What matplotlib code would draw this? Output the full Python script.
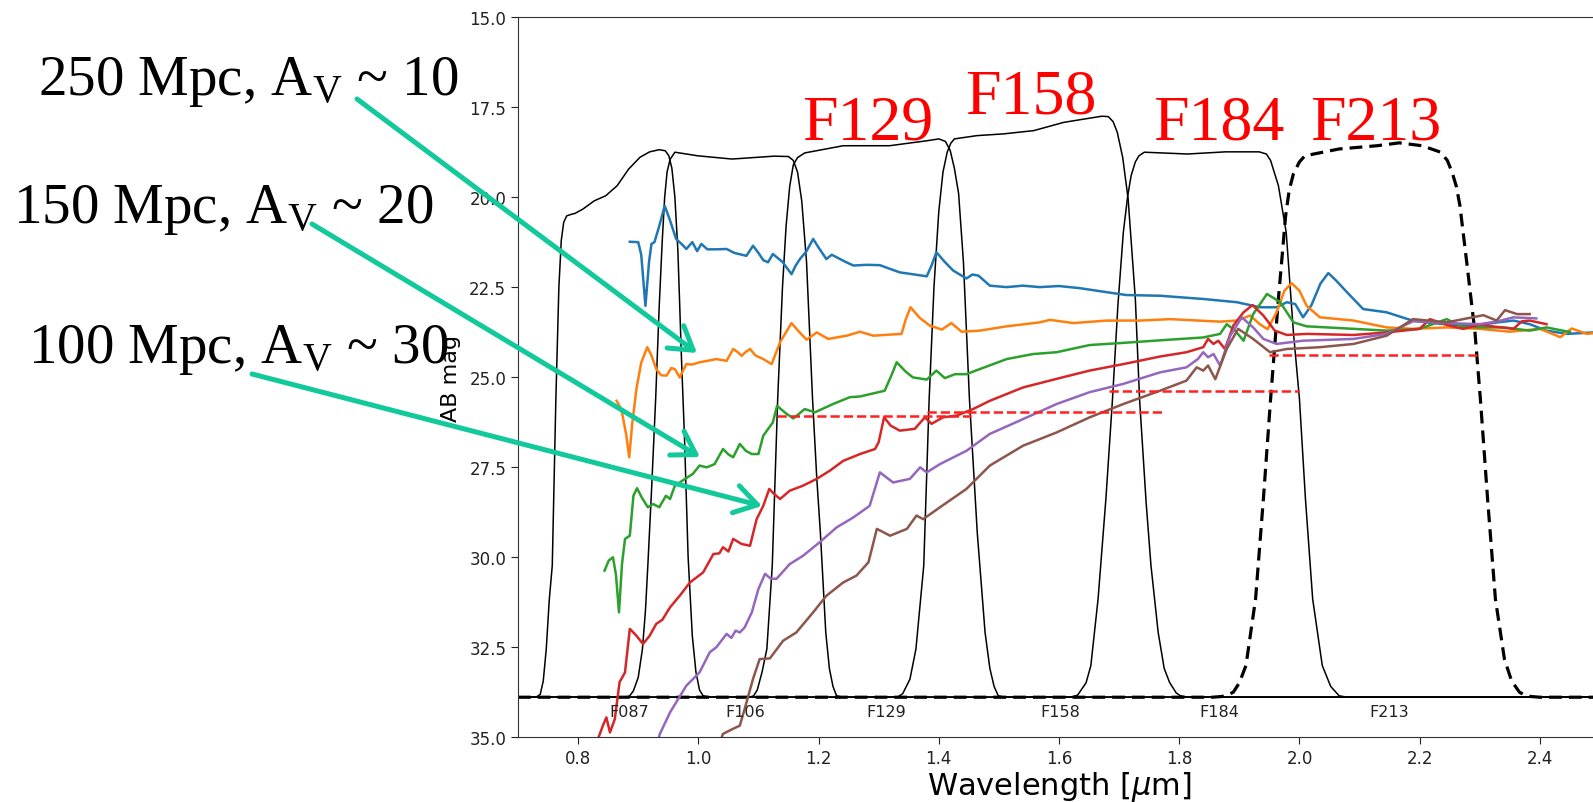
import numpy as np
import matplotlib
matplotlib.use("Agg")
import matplotlib.pyplot as plt

W, H = 1593, 803

# ---- spectra (wavelength in micron, AB mag) ----
blue_wl = [0.886, 0.900, 0.905, 0.912, 0.918, 0.922, 0.927, 0.935, 0.944, 0.952, 0.963, 0.972, 0.980,
           0.990, 0.998, 1.005, 1.015, 1.030, 1.047, 1.060, 1.080, 1.091, 1.100, 1.108, 1.116, 1.124,
           1.140, 1.155, 1.162, 1.169, 1.180, 1.191, 1.200, 1.213, 1.222, 1.230, 1.245, 1.258, 1.280,
           1.302, 1.320, 1.335, 1.360, 1.380, 1.388, 1.396, 1.410, 1.424, 1.446, 1.456, 1.466, 1.485,
           1.513, 1.540, 1.568, 1.600, 1.635, 1.679, 1.712, 1.768, 1.840, 1.896, 1.934, 1.962, 1.979,
           1.993, 2.006, 2.020, 2.035, 2.048, 2.060, 2.079, 2.106, 2.145, 2.184, 2.220, 2.260, 2.300,
           2.330, 2.356, 2.383, 2.411, 2.445, 2.489]
blue_mag = [21.24, 21.25, 21.6, 23.02, 21.8, 21.3, 21.25, 20.8, 20.24, 20.6, 21.16, 21.3, 21.44,
            21.25, 21.5, 21.3, 21.45, 21.45, 21.44, 21.55, 21.63, 21.35, 21.55, 21.75, 21.81, 21.58,
            21.8, 22.14, 21.9, 21.72, 21.5, 21.16, 21.4, 21.72, 21.6, 21.67, 21.8, 21.90, 21.88,
            21.89, 22.0, 22.09, 22.15, 22.20, 21.9, 21.53, 21.8, 22.04, 22.26, 22.15, 22.18, 22.46,
            22.50, 22.46, 22.50, 22.47, 22.53, 22.64, 22.72, 22.74, 22.83, 22.92, 23.06, 23.06, 22.92,
            22.97, 23.34, 23.0, 22.4, 22.11, 22.3, 22.64, 23.11, 23.20, 23.41, 23.50, 23.55, 23.55,
            23.48, 23.43, 23.53, 23.71, 23.80, 23.76]

orange_wl = [0.864, 0.872, 0.880, 0.885, 0.890, 0.897, 0.905, 0.915, 0.922, 0.930, 0.938, 0.947, 0.955,
             0.961, 0.969, 0.980, 0.990, 1.002, 1.015, 1.030, 1.047, 1.058, 1.065, 1.072, 1.079, 1.086,
             1.095, 1.108, 1.122, 1.136, 1.155, 1.168, 1.180, 1.197, 1.216, 1.247, 1.269, 1.291, 1.338,
             1.345, 1.353, 1.368, 1.385, 1.405, 1.421, 1.438, 1.468, 1.513, 1.568, 1.585, 1.624, 1.679,
             1.735, 1.785, 1.868, 1.896, 1.918, 1.934, 1.947, 1.962, 1.975, 1.987, 2.000, 2.012, 2.034,
             2.090, 2.145, 2.189, 2.245, 2.300, 2.350, 2.400, 2.434, 2.453, 2.478, 2.489]
orange_mag = [25.66, 25.9, 26.6, 27.23, 26.3, 25.33, 24.6, 24.17, 24.4, 24.78, 24.95, 24.96, 24.75,
              24.78, 25.01, 24.64, 24.65, 24.59, 24.55, 24.50, 24.55, 24.22, 24.30, 24.41, 24.3, 24.22,
              24.4, 24.50, 24.64, 24.03, 23.50, 23.75, 23.96, 23.76, 23.94, 23.85, 23.74, 23.85, 23.80,
              23.4, 23.06, 23.35, 23.57, 23.68, 23.50, 23.74, 23.71, 23.59, 23.48, 23.41, 23.50, 23.43,
              23.43, 23.39, 23.46, 23.43, 23.29, 23.53, 23.67, 23.20, 22.6, 22.39, 22.6, 23.02, 23.34,
              23.43, 23.62, 23.66, 23.62, 23.66, 23.74, 23.66, 23.89, 23.65, 23.80, 23.78]

green_wl = [0.844, 0.851, 0.858, 0.863, 0.868, 0.873, 0.878, 0.886, 0.892, 0.898, 0.906, 0.916, 0.925,
            0.935, 0.946, 0.953, 0.961, 0.978, 0.991, 1.002, 1.014, 1.027, 1.041, 1.050, 1.058, 1.069,
            1.079, 1.089, 1.100, 1.108, 1.124, 1.131, 1.145, 1.158, 1.177, 1.194, 1.224, 1.252, 1.269,
            1.310, 1.320, 1.330, 1.345, 1.357, 1.380, 1.396, 1.410, 1.427, 1.446, 1.468, 1.513, 1.557,
            1.596, 1.651, 1.707, 1.785, 1.840, 1.868, 1.879, 1.893, 1.907, 1.923, 1.946, 1.968, 1.990,
            2.012, 2.090, 2.145, 2.200, 2.245, 2.270, 2.300, 2.340, 2.383, 2.411, 2.450]
green_mag = [30.38, 30.1, 30.01, 30.5, 31.54, 30.2, 29.50, 29.41, 28.30, 28.09, 28.35, 28.62, 28.53,
             28.62, 28.30, 28.39, 28.02, 27.83, 27.69, 27.46, 27.51, 27.42, 27.00, 27.15, 27.23, 26.86,
             27.05, 27.14, 27.14, 26.63, 26.26, 25.80, 26.0, 26.15, 25.89, 25.98, 25.75, 25.56, 25.54,
             25.38, 25.0, 24.59, 24.85, 25.01, 25.07, 24.82, 25.03, 24.92, 24.92, 24.78, 24.50, 24.36,
             24.31, 24.11, 24.05, 23.96, 23.90, 23.80, 23.53, 23.71, 23.99, 23.25, 22.69, 22.92, 23.48,
             23.59, 23.66, 23.71, 23.66, 23.39, 23.6, 23.62, 23.62, 23.71, 23.62, 23.75]

red_wl = [0.825, 0.833, 0.841, 0.847, 0.853, 0.861, 0.869, 0.878, 0.886, 0.897, 0.908, 0.919, 0.930,
          0.940, 0.953, 0.969, 0.986, 1.008, 1.025, 1.035, 1.041, 1.050, 1.058, 1.072, 1.086, 1.097,
          1.108, 1.118, 1.126, 1.136, 1.152, 1.174, 1.197, 1.219, 1.241, 1.269, 1.294, 1.300, 1.309,
          1.320, 1.335, 1.360, 1.377, 1.388, 1.407, 1.430, 1.457, 1.485, 1.540, 1.596, 1.651, 1.707,
          1.768, 1.812, 1.840, 1.848, 1.857, 1.865, 1.876, 1.890, 1.907, 1.922, 1.940, 1.959, 1.979,
          2.012, 2.090, 2.145, 2.200, 2.217, 2.245, 2.272, 2.300, 2.356, 2.370, 2.383, 2.411]
red_mag = [35.6, 35.06, 34.7, 34.46, 34.88, 34.51, 33.48, 33.21, 32.00, 32.19, 32.42, 32.19, 31.86,
           31.75, 31.40, 31.08, 30.71, 30.43, 29.92, 29.90, 29.73, 29.85, 29.50, 29.64, 29.69, 28.95,
           28.58, 28.11, 28.25, 28.39, 28.16, 28.02, 27.83, 27.60, 27.33, 27.14, 27.00, 26.81, 26.12,
           26.35, 26.49, 26.44, 26.12, 26.30, 26.12, 26.07, 25.89, 25.66, 25.29, 25.05, 24.82, 24.64,
           24.43, 24.31, 24.17, 23.94, 24.08, 23.99, 24.22, 23.57, 23.20, 23.00, 23.29, 23.71, 23.83,
           23.80, 23.83, 23.76, 23.66, 23.39, 23.55, 23.66, 23.55, 23.66, 23.45, 23.43, 23.53]

purple_wl = [0.930, 0.936, 0.953, 0.980, 1.002, 1.019, 1.030, 1.047, 1.055, 1.062, 1.069, 1.077, 1.089,
             1.100, 1.111, 1.120, 1.130, 1.152, 1.174, 1.202, 1.230, 1.258, 1.285, 1.302, 1.324, 1.352,
             1.369, 1.380, 1.402, 1.446, 1.485, 1.540, 1.596, 1.651, 1.707, 1.768, 1.812, 1.831, 1.840,
             1.848, 1.857, 1.868, 1.885, 1.904, 1.923, 1.940, 1.962, 2.006, 2.090, 2.145, 2.189, 2.245,
             2.300, 2.330, 2.356, 2.394]
purple_mag = [35.3, 34.92, 34.32, 33.58, 33.21, 32.65, 32.51, 32.14, 32.25, 32.05, 32.10, 31.96, 31.54,
              30.89, 30.47, 30.6, 30.61, 30.20, 29.97, 29.59, 29.18, 28.90, 28.58, 27.65, 27.93, 27.83,
              27.51, 27.65, 27.42, 27.05, 26.58, 26.17, 25.75, 25.42, 25.19, 24.87, 24.73, 24.50, 24.31,
              24.45, 24.36, 24.68, 23.85, 23.34, 23.62, 23.94, 24.08, 23.99, 23.94, 23.80, 23.45, 23.50,
              23.53, 23.45, 23.34, 23.37]

brown_wl = [1.035, 1.041, 1.055, 1.069, 1.077, 1.091, 1.102, 1.119, 1.141, 1.163, 1.191, 1.213, 1.241,
            1.263, 1.283, 1.297, 1.319, 1.347, 1.363, 1.374, 1.402, 1.446, 1.485, 1.540, 1.596, 1.651,
            1.707, 1.768, 1.812, 1.829, 1.840, 1.848, 1.860, 1.879, 1.898, 1.923, 1.951, 1.979, 2.034,
            2.090, 2.145, 2.189, 2.245, 2.306, 2.328, 2.342, 2.362, 2.383]
brown_mag = [35.2, 34.92, 34.8, 34.69, 34.23, 33.39, 32.84, 32.82, 32.33, 32.10, 31.54, 31.08, 30.71,
             30.52, 30.15, 29.22, 29.41, 29.22, 28.85, 28.95, 28.62, 28.11, 27.46, 26.91, 26.54, 26.12,
             25.75, 25.38, 25.10, 24.73, 24.82, 24.68, 25.06, 24.22, 23.66, 23.94, 24.31, 24.22, 24.17,
             24.08, 23.85, 23.39, 23.48, 23.28, 23.43, 23.14, 23.25, 23.25]

# ---- filter curves, scaled onto the magnitude axis ----
f087_wl = [0.70, 0.730, 0.737, 0.742, 0.747, 0.752, 0.757, 0.763, 0.768, 0.772, 0.776, 0.781, 0.788,
           0.795, 0.808, 0.827, 0.846, 0.865, 0.884, 0.903, 0.919, 0.935, 0.945, 0.951, 0.956, 0.961,
           0.966, 0.972, 0.977, 0.983, 0.990, 0.996, 1.002, 1.008, 1.02, 2.5]
f087_mag = [33.9, 33.9, 33.82, 33.45, 32.56, 31.2, 30.24, 25.61, 22.5, 21.2, 20.7, 20.52, 20.48,
            20.45, 20.33, 20.10, 19.96, 19.68, 19.22, 18.89, 18.74, 18.68, 18.71, 18.85, 19.2, 20.0,
            21.5, 24.5, 26.7, 30.0, 32.2, 33.2, 33.7, 33.86, 33.9, 33.9]
f106_wl = [0.70, 0.880, 0.886, 0.892, 0.900, 0.907, 0.912, 0.916, 0.922, 0.929, 0.935, 0.940, 0.944,
           0.948, 0.953, 0.961, 0.999, 1.056, 1.126, 1.150, 1.158, 1.165, 1.172, 1.180, 1.190, 1.197,
           1.203, 1.212, 1.218, 1.224, 1.230, 1.24, 2.5]
f106_mag = [33.9, 33.9, 33.86, 33.72, 33.35, 32.56, 31.5, 30.24, 28.2, 25.61, 23.0, 21.2, 20.0,
            19.3, 18.95, 18.75, 18.85, 18.94, 18.86, 18.87, 18.98, 19.3, 20.1, 21.8, 25.61, 27.8,
            29.32, 32.1, 33.1, 33.6, 33.86, 33.9, 33.9]
f129_wl = [0.70, 1.085, 1.092, 1.098, 1.106, 1.114, 1.123, 1.132, 1.140, 1.146, 1.152, 1.158, 1.165,
           1.177, 1.241, 1.318, 1.381, 1.400, 1.411, 1.419, 1.426, 1.433, 1.441, 1.451, 1.464, 1.477,
           1.485, 1.492, 1.499, 1.51, 2.5]
f129_mag = [33.9, 33.9, 33.86, 33.7, 33.2, 32.56, 30.24, 25.61, 22.5, 20.8, 19.7, 19.1, 18.9,
            18.77, 18.57, 18.57, 18.43, 18.38, 18.45, 18.7, 19.2, 19.9, 21.8, 25.61, 29.32, 32.1,
            33.1, 33.6, 33.86, 33.9, 33.9]
f158_wl = [0.70, 1.325, 1.333, 1.340, 1.352, 1.362, 1.375, 1.384, 1.392, 1.400, 1.407, 1.414, 1.420,
           1.426, 1.463, 1.508, 1.558, 1.608, 1.671, 1.682, 1.690, 1.697, 1.706, 1.715, 1.727, 1.734,
           1.745, 1.753, 1.765, 1.775, 1.784, 1.795, 1.802, 1.815, 2.5]
f158_mag = [33.9, 33.9, 33.88, 33.8, 33.4, 32.56, 30.24, 25.61, 22.5, 20.4, 19.3, 18.75, 18.5,
            18.38, 18.29, 18.24, 18.15, 17.92, 17.75, 17.76, 17.9, 18.20, 18.9, 20.05, 22.83, 25.61,
            28.5, 30.24, 32.1, 33.1, 33.49, 33.78, 33.86, 33.9, 33.9]
f184_wl = [0.70, 1.615, 1.624, 1.631, 1.645, 1.653, 1.665, 1.678, 1.689, 1.698, 1.707, 1.714, 1.720,
           1.727, 1.733, 1.742, 1.814, 1.877, 1.933, 1.945, 1.952, 1.965, 1.978, 1.990, 2.000, 2.010,
           2.022, 2.038, 2.052, 2.066, 2.08, 2.5]
f184_mag = [33.9, 33.9, 33.88, 33.84, 33.5, 33.02, 31.17, 28.39, 25.61, 23.0, 20.98, 20.0, 19.40,
            19.02, 18.85, 18.75, 18.80, 18.74, 18.74, 18.8, 18.98, 19.68, 20.98, 23.76, 25.61, 28.39,
            31.17, 33.02, 33.6, 33.86, 33.9, 33.9]
f213_wl = [0.70, 1.855, 1.863, 1.871, 1.880, 1.890, 1.900, 1.911, 1.927, 1.940, 1.952, 1.965, 1.977,
           1.983, 1.990, 2.000, 2.009, 2.066, 2.129, 2.166, 2.204, 2.235, 2.246, 2.254, 2.261, 2.267,
           2.279, 2.292, 2.301, 2.313, 2.326, 2.341, 2.353, 2.366, 2.376, 2.385, 2.40, 2.5]
f213_mag = [33.9, 33.9, 33.89, 33.88, 33.84, 33.76, 33.5, 33.02, 31.17, 28.39, 25.61, 22.83, 20.52,
            19.8, 19.35, 19.02, 18.85, 18.66, 18.57, 18.49, 18.57, 18.75, 18.98, 19.31, 19.7, 20.24,
            21.91, 23.76, 25.61, 28.39, 31.17, 32.84, 33.45, 33.76, 33.85, 33.88, 33.9, 33.9]

filter_names = ["F087", "F106", "F129", "F158", "F184", "F213"]
filter_label_x = [0.885, 1.078, 1.313, 1.602, 1.866, 2.150]

# depth limits (red dashed)
lim_lo = [1.131, 1.380, 1.683, 1.950]
lim_hi = [1.454, 1.774, 2.000, 2.300]
lim_mag = [26.08, 25.98, 25.38, 24.39]

fig = plt.figure(figsize=(W / 100, H / 100), dpi=100)
ax = fig.add_axes([518 / W, (H - 737.8) / H, (1600 - 518) / W, (737.8 - 18.3) / H])

for wl, mag in [(f087_wl, f087_mag), (f106_wl, f106_mag), (f129_wl, f129_mag),
                (f158_wl, f158_mag), (f184_wl, f184_mag)]:
    ax.plot(wl, mag, color="black", lw=1.1)
ax.plot(f213_wl, f213_mag, color="black", lw=2.3, ls="--", dashes=(4, 2.2))

spectra = [(blue_wl, blue_mag, "tab:blue"), (orange_wl, orange_mag, "tab:orange"),
           (green_wl, green_mag, "tab:green"), (red_wl, red_mag, "tab:red"),
           (purple_wl, purple_mag, "tab:purple"), (brown_wl, brown_mag, "tab:brown")]
for wl, mag, c in spectra:
    ax.plot(wl, mag, color=c, lw=1.8)

ax.hlines(lim_mag, lim_lo, lim_hi, colors="#ff2020", linestyles="--", lw=1.8)

for name, x in zip(filter_names, filter_label_x):
    ax.text(x, 34.31, name, ha="center", va="center", fontsize=11.5, color="#222222")

ax.set_xlim(0.7, 2.5)
ax.set_ylim(35, 15)
ax.set_xticks(np.arange(0.8, 2.41, 0.2))
ax.set_yticks(np.arange(15, 35.1, 2.5))
ax.tick_params(labelsize=12, colors="#222222", length=5)
for s in ax.spines.values():
    s.set_color("#333333")
ax.set_xlabel(r"Wavelength [$\mu$m]", fontsize=22, labelpad=2)
ax.set_ylabel("AB mag", fontsize=16, labelpad=6)

# slide annotations
serif = "Liberation Serif"
notes = [("250 Mpc, $\\mathregular{A_V}$ ~ 10", 38, 95),
         ("150 Mpc, $\\mathregular{A_V}$ ~ 20", 13, 223),
         ("100 Mpc, $\\mathregular{A_V}$ ~ 30", 28, 363)]
for s, x, y in notes:
    fig.text(x / W, 1 - y / H, s, family=serif, fontsize=41, ha="left", va="baseline")

red_labels = [("F129", 868, 139), ("F158", 1031, 114), ("F184", 1219, 139), ("F213", 1376, 139)]
for s, x, y in red_labels:
    fig.text(x / W, 1 - y / H, s, family=serif, fontsize=46, color="red", ha="center", va="baseline")

arrows = [((357, 100), (697, 354)), ((312, 225), (700, 458)), ((252, 375), (762, 507))]
for (x0, y0), (x1, y1) in arrows:
    fig.add_artist(matplotlib.patches.FancyArrowPatch(
        (x0 / W, 1 - y0 / H), (x1 / W, 1 - y1 / H), transform=fig.transFigure,
        arrowstyle="->,head_length=0.8,head_width=0.5", mutation_scale=20,
        lw=3.6, color="#12c99b", shrinkA=0, shrinkB=0))

fig.savefig("out.png", dpi=100)
